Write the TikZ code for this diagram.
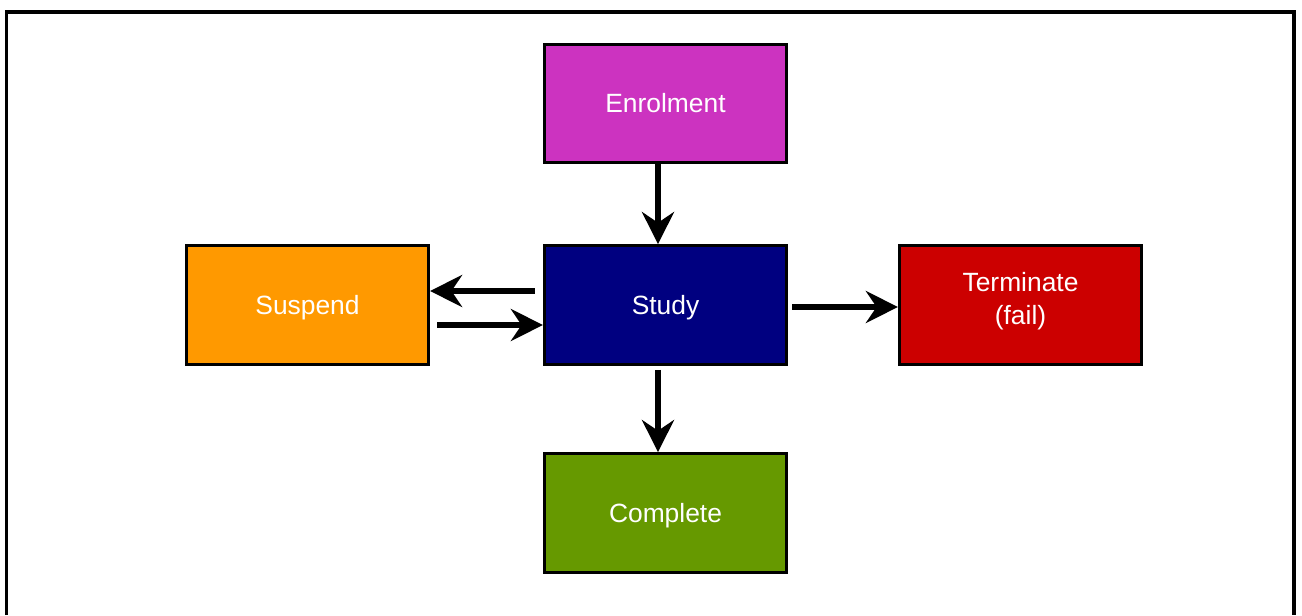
\documentclass[tikz,border=0pt]{standalone}
\usepackage{fontspec}
\setmainfont{Liberation Sans}
\usetikzlibrary{arrows.meta,calc}
\definecolor{cEnrol}{RGB}{204,51,192}
\definecolor{cStudy}{RGB}{0,0,128}
\definecolor{cSusp}{RGB}{255,153,0}
\definecolor{cTerm}{RGB}{204,0,0}
\definecolor{cComp}{RGB}{102,153,0}
\tikzset{
  box/.style={draw=black, line width=2.4pt, minimum width=181.5pt, minimum height=89pt,
    inner sep=0pt, text=white, font=\fontsize{19.8}{24.75}\selectfont, align=center},
  oneline/.style={text height=14.2pt, text depth=0pt},
  arr/.style={draw=black, line width=4.2pt,
    -{Stealth[length=24pt,width=24pt,inset=8pt]}},
}
\begin{document}
\begin{tikzpicture}[x=0.75pt,y=-0.75pt]
\useasboundingbox (0,0) rectangle (1302,615);
\fill[white] (0,0) rectangle (1302,615);
\draw[line width=2.8pt] (6.5,615) -- (6.5,12) -- (1294,12) -- (1294,615);
\node[box, oneline, fill=cEnrol] (enrol) at (665.5,103.5) {Enrolment};
\node[box, oneline, fill=cStudy] (study) at (665.5,305) {Study};
\node[box, oneline, fill=cSusp] (susp) at (307.5,305) {Suspend};
\node[box, fill=cTerm] (term) at (1020.5,305)
  {\raisebox{-2.2pt}[0pt][0pt]{\begin{tabular}{@{}c@{}}Terminate\\(fail)\end{tabular}}};
\node[box, oneline, fill=cComp] (comp) at (665.5,513) {Complete};
\coordinate (ax) at (658,0);
\coordinate (up) at (0,291);
\coordinate (lo) at (0,325);
\coordinate (mid) at (0,307);
\draw[arr] (enrol.south -| ax) -- (study.north -| ax);
\draw[arr] ($(study.south -| ax)+(0,4)$) -- (comp.north -| ax);
\draw[arr] ($(study.east |- mid)+(4,0)$) -- (term.west |- mid);
\draw[arr] ($(study.west |- up)+(-8,0)$) -- (susp.east |- up);
\draw[arr] ($(susp.east |- lo)+(7,0)$) -- (study.west |- lo);
\end{tikzpicture}
\end{document}
